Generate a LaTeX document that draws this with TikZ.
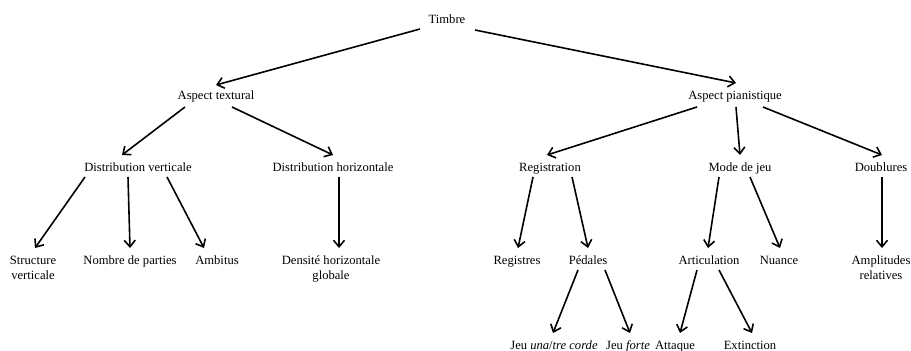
\documentclass[tikz,border=0pt]{standalone}
\usepackage{fontspec}
\setmainfont{Liberation Serif}
\usetikzlibrary{arrows.meta}
\begin{document}
\begin{tikzpicture}[x=1pt,y=-1pt,
  lbl/.style={inner sep=0pt,anchor=base,align=center,font=\fontsize{12.6}{15}\selectfont},
  arr/.style={line width=1.6pt,-{Straight Barb[length=6.5pt,width=11pt,line width=1.6pt]}}]
\useasboundingbox (0,0) rectangle (911,351);
% nodes
\node[lbl] (T)  at (447,23) {Timbre};
\node[lbl] (AT) at (216,99) {Aspect textural};
\node[lbl] (AP) at (735,99) {Aspect pianistique};
\node[lbl] (DV) at (138,171) {Distribution verticale};
\node[lbl] (DH) at (333,171) {Distribution horizontale};
\node[lbl] (RG) at (550,171) {Registration};
\node[lbl] (MJ) at (740,171) {Mode de jeu};
\node[lbl] (DB) at (881,171) {Doublures};
\node[lbl] (SV) at (33,279) {Structure\\verticale};
\node[lbl] (NP) at (130,264) {Nombre de parties};
\node[lbl] (AM) at (217,264) {Ambitus};
\node[lbl] (DE) at (331,279) {Densité horizontale\\globale};
\node[lbl] (RE) at (517,264) {Registres};
\node[lbl] (PE) at (588,264) {Pédales};
\node[lbl] (AR) at (709,264) {Articulation};
\node[lbl] (NU) at (779,264) {Nuance};
\node[lbl] (AL) at (881,279) {Amplitudes\\relatives};
\node[lbl] (JU) at (554,349) {Jeu \textit{una}/\textit{tre corde}};
\node[lbl] (JF) at (628,349) {Jeu \textit{forte}};
\node[lbl] (AQ) at (675,349) {Attaque};
\node[lbl] (EX) at (750,349) {Extinction};
% connectors
\draw[arr] ([shift={(-27,6)}]T.base) -- ([shift={(0,-14)}]AT.base);
\draw[arr] ([shift={(28,7)}]T.base) -- ([shift={(1,-16)}]AP.base);
\draw[arr] ([shift={(-31,8)}]AT.base) -- ([shift={(-16,-16)}]DV.base);
\draw[arr] ([shift={(16,8)}]AT.base) -- ([shift={(0,-16)}]DH.base);
\draw[arr] ([shift={(-38,8)}]AP.base) -- ([shift={(-3,-16)}]RG.base);
\draw[arr] ([shift={(1,8)}]AP.base) -- ([shift={(0,-16)}]MJ.base);
\draw[arr] ([shift={(28,8)}]AP.base) -- ([shift={(1,-16)}]DB.base);
\draw[arr] ([shift={(-53,6)}]DV.base) -- ([shift={(2,-31)}]SV.base);
\draw[arr] ([shift={(-10,6)}]DV.base) -- ([shift={(0,-16)}]NP.base);
\draw[arr] ([shift={(29,6)}]DV.base) -- ([shift={(-13,-16)}]AM.base);
\draw[arr] ([shift={(6,6)}]DH.base) -- ([shift={(8,-31)}]DE.base);
\draw[arr] ([shift={(-17,6)}]RG.base) -- ([shift={(1,-16)}]RE.base);
\draw[arr] ([shift={(22,6)}]RG.base) -- ([shift={(0,-16)}]PE.base);
\draw[arr] ([shift={(-21,6)}]MJ.base) -- ([shift={(-1,-16)}]AR.base);
\draw[arr] ([shift={(10,6)}]MJ.base) -- ([shift={(1,-16)}]NU.base);
\draw[arr] ([shift={(1,6)}]DB.base) -- ([shift={(1,-31)}]AL.base);
\draw[arr] ([shift={(-10,6)}]PE.base) -- ([shift={(-1,-16)}]JU.base);
\draw[arr] ([shift={(17,6)}]PE.base) -- ([shift={(2,-16)}]JF.base);
\draw[arr] ([shift={(-12,6)}]AR.base) -- ([shift={(5,-16)}]AQ.base);
\draw[arr] ([shift={(10,6)}]AR.base) -- ([shift={(2,-16)}]EX.base);
\end{tikzpicture}
\end{document}
